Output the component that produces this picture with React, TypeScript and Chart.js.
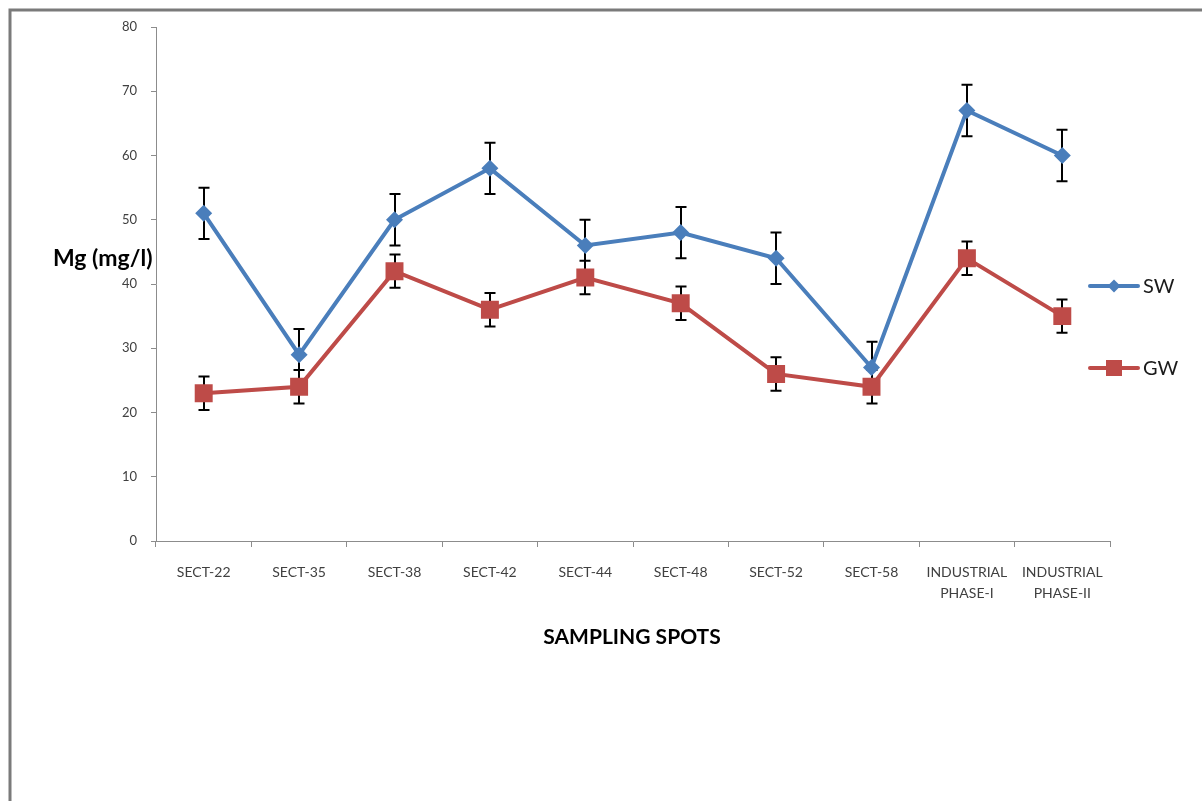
import React, { useEffect, useRef } from "react";
import { Chart, registerables } from "chart.js";

Chart.register(...registerables);

// Sampling spots along the x axis (multi-line labels as arrays)
const categories: (string | string[])[] = [
  "SECT-22",
  "SECT-35",
  "SECT-38",
  "SECT-42",
  "SECT-44",
  "SECT-48",
  "SECT-52",
  "SECT-58",
  ["INDUSTRIAL", "PHASE-I"],
  ["INDUSTRIAL", "PHASE-II"],
];

// Magnesium concentration (mg/l)
const swValues = [51, 29, 50, 58, 46, 48, 44, 27, 67, 60];
const gwValues = [23, 24, 42, 36, 41, 37, 26, 24, 44, 35];

// Error bar half-lengths (mg/l)
const swErrors = [4, 4, 4, 4, 4, 4, 4, 4, 4, 4];
const gwErrors = [2.6, 2.6, 2.6, 2.6, 2.6, 2.6, 2.6, 2.6, 2.6, 2.6];

const yTicks = [0, 10, 20, 30, 40, 50, 60, 70, 80];

const SW_COLOR = "#4A7EBB";
const GW_COLOR = "#BE4B48";
const FONT = "Lato, 'Open Sans', sans-serif";

const errorsByDataset = [swErrors, gwErrors];

// Outer frame of the chart sheet
const framePlugin = {
  id: "frame",
  beforeDraw(chart: any) {
    const { ctx, width, height } = chart;
    ctx.save();
    ctx.fillStyle = "#ffffff";
    ctx.fillRect(0, 0, width, height);
    ctx.strokeStyle = "#7a7a7a";
    ctx.lineWidth = 3;
    ctx.beginPath();
    ctx.moveTo(10, height);
    ctx.lineTo(10, 10);
    ctx.lineTo(width, 10);
    ctx.stroke();
    ctx.restore();
  },
};

// Vertical error bars with caps, drawn beneath the series
const errorBarPlugin = {
  id: "errorBars",
  beforeDatasetsDraw(chart: any) {
    const { ctx } = chart;
    const yScale = chart.scales.y;
    ctx.save();
    ctx.strokeStyle = "#000000";
    ctx.lineWidth = 2;
    chart.data.datasets.forEach((ds: any, di: number) => {
      const meta = chart.getDatasetMeta(di);
      const errs = errorsByDataset[di];
      meta.data.forEach((pt: any, i: number) => {
        const v = ds.data[i];
        const e = errs[i];
        const x = Math.round(pt.x);
        const top = yScale.getPixelForValue(v + e);
        const bot = yScale.getPixelForValue(v - e);
        const cap = 5.5;
        ctx.beginPath();
        ctx.moveTo(x, top);
        ctx.lineTo(x, bot);
        ctx.moveTo(x - cap, top);
        ctx.lineTo(x + cap, top);
        ctx.moveTo(x - cap, bot);
        ctx.lineTo(x + cap, bot);
        ctx.stroke();
      });
    });
    ctx.restore();
  },
};

// Axis titles and the right-hand legend
const annotationPlugin = {
  id: "annotations",
  afterDraw(chart: any) {
    const { ctx } = chart;
    ctx.save();
    ctx.fillStyle = "#000000";
    ctx.textBaseline = "middle";

    ctx.font = `bold 23px ${FONT}`;
    ctx.textAlign = "left";
    ctx.fillText("Mg (mg/l)", 53, 259);

    ctx.font = `bold 21px ${FONT}`;
    ctx.textAlign = "center";
    ctx.fillText("SAMPLING SPOTS", 632, 637);

    const items = [
      { label: "SW", color: SW_COLOR, y: 286, shape: "diamond" },
      { label: "GW", color: GW_COLOR, y: 368, shape: "square" },
    ];
    items.forEach((it) => {
      ctx.strokeStyle = it.color;
      ctx.fillStyle = it.color;
      ctx.lineWidth = 4;
      ctx.lineCap = "round";
      ctx.beginPath();
      ctx.moveTo(1090, it.y);
      ctx.lineTo(1138, it.y);
      ctx.stroke();
      const cx = 1114;
      ctx.beginPath();
      if (it.shape === "diamond") {
        const r = 6.5;
        ctx.moveTo(cx, it.y - r);
        ctx.lineTo(cx + r, it.y);
        ctx.lineTo(cx, it.y + r);
        ctx.lineTo(cx - r, it.y);
        ctx.closePath();
      } else {
        const h = 8;
        ctx.rect(cx - h, it.y - h, 2 * h, 2 * h);
      }
      ctx.fill();
      ctx.fillStyle = "#1a1a1a";
      ctx.font = `20px ${FONT}`;
      ctx.textAlign = "left";
      ctx.fillText(it.label, 1143, it.y + 1);
    });
    ctx.restore();
  },
};

export default function App() {
  const canvasRef = useRef<HTMLCanvasElement | null>(null);

  useEffect(() => {
    if (!canvasRef.current) return;
    const chart = new Chart(canvasRef.current, {
      type: "line",
      data: {
        labels: categories as any,
        datasets: [
          {
            label: "SW",
            data: swValues,
            borderColor: SW_COLOR,
            backgroundColor: SW_COLOR,
            borderWidth: 4,
            tension: 0,
            pointStyle: "rectRot",
            pointRadius: 8.5,
            pointHoverRadius: 8.5,
            pointBorderWidth: 0,
            pointBackgroundColor: SW_COLOR,
          },
          {
            label: "GW",
            data: gwValues,
            borderColor: GW_COLOR,
            backgroundColor: GW_COLOR,
            borderWidth: 4,
            tension: 0,
            pointStyle: "rect",
            pointRadius: 12.7,
            pointHoverRadius: 12.7,
            pointBorderWidth: 0,
            pointBackgroundColor: GW_COLOR,
          },
        ],
      },
      options: {
        animation: false,
        responsive: false,
        maintainAspectRatio: false,
        events: [],
        layout: { padding: { left: 0, top: 27, right: 92, bottom: 0 } },
        plugins: {
          legend: { display: false },
          tooltip: { enabled: false },
        },
        scales: {
          x: {
            type: "category",
            offset: true,
            grid: {
              offset: true,
              drawOnChartArea: false,
              drawTicks: true,
              tickLength: 6,
              color: "#8c8c8c",
            },
            border: { color: "#8c8c8c", width: 1 },
            ticks: {
              autoSkip: false,
              maxRotation: 0,
              minRotation: 0,
              padding: 15,
              color: "#404040",
              font: { family: FONT, size: 14, lineHeight: 1.5 },
            },
            afterFit(scale: any) {
              scale.height = 801 - 541;
            },
          },
          y: {
            min: 0,
            max: 80,
            afterBuildTicks(scale: any) {
              scale.ticks = yTicks.map((v) => ({ value: v }));
            },
            grid: {
              drawOnChartArea: false,
              drawTicks: true,
              tickLength: 5,
              color: "#8c8c8c",
            },
            border: { color: "#8c8c8c", width: 1 },
            ticks: {
              padding: 14,
              color: "#404040",
              font: { family: FONT, size: 13 },
            },
            afterFit(scale: any) {
              scale.width = 156;
            },
          },
        },
      },
      plugins: [framePlugin, errorBarPlugin, annotationPlugin],
    });
    return () => chart.destroy();
  }, []);

  return (
    <div style={{ position: "absolute", left: 0, top: 0, width: 1202, height: 801 }}>
      <canvas ref={canvasRef} width={1202} height={801} style={{ display: "block" }} />
    </div>
  );
}
